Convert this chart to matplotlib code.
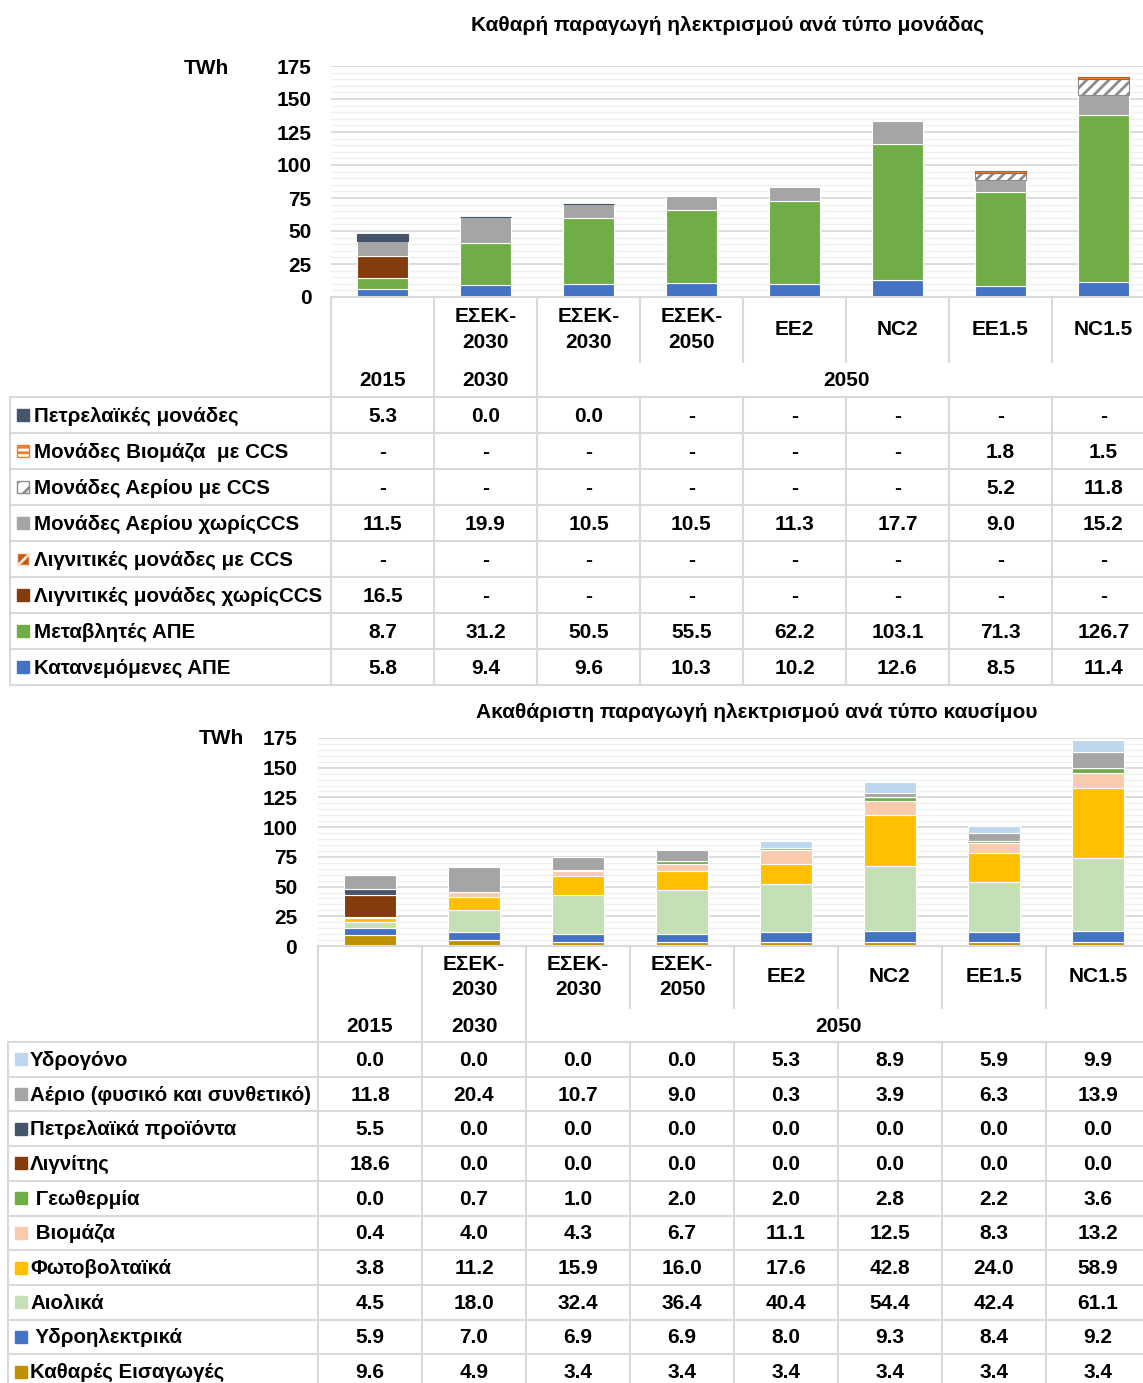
import matplotlib
matplotlib.use('Agg')
import matplotlib.pyplot as plt
from matplotlib.patches import Rectangle
from matplotlib.ticker import MultipleLocator
import numpy as np

plt.rcParams['font.family'] = ['Liberation Sans', 'DejaVu Sans']
plt.rcParams['font.weight'] = 'bold'
plt.rcParams['hatch.linewidth'] = 2.0

W, H = 1143, 1383

# --- data ---
scenarios = ["", "ΕΣΕΚ-\n2030", "ΕΣΕΚ-\n2030", "ΕΣΕΚ-\n2050", "EE2", "NC2", "EE1.5", "NC1.5"]
years = ["2015", "2030", "2050"]

# top: net production per plant type (table order)
top_title = "Καθαρή παραγωγή ηλεκτρισμού ανά τύπο μονάδας"
top_names = ["Πετρελαϊκές μονάδες", "Μονάδες Βιομάζα  με CCS", "Μονάδες Αερίου με CCS",
             "Μονάδες Αερίου χωρίςCCS", "Λιγνιτικές μονάδες με CCS",
             "Λιγνιτικές μονάδες χωρίςCCS", "Μεταβλητές ΑΠΕ", "Κατανεμόμενες ΑΠΕ"]
oil_units = [5.3, 0.0, 0.0, None, None, None, None, None]
bio_ccs = [None, None, None, None, None, None, 1.8, 1.5]
gas_ccs = [None, None, None, None, None, None, 5.2, 11.8]
gas_noccs = [11.5, 19.9, 10.5, 10.5, 11.3, 17.7, 9.0, 15.2]
lig_ccs = [None, None, None, None, None, None, None, None]
lig_noccs = [16.5, None, None, None, None, None, None, None]
var_res = [8.7, 31.2, 50.5, 55.5, 62.2, 103.1, 71.3, 126.7]
disp_res = [5.8, 9.4, 9.6, 10.3, 10.2, 12.6, 8.5, 11.4]
top_values = [oil_units, bio_ccs, gas_ccs, gas_noccs, lig_ccs, lig_noccs, var_res, disp_res]

# bottom: gross production per fuel (table order)
bot_title = "Ακαθάριστη παραγωγή ηλεκτρισμού ανά τύπο καυσίμου"
bot_names = ["Υδρογόνο", "Αέριο (φυσικό και συνθετικό)", "Πετρελαϊκά προϊόντα", "Λιγνίτης",
             " Γεωθερμία", " Βιομάζα", "Φωτοβολταϊκά", "Αιολικά", " Υδροηλεκτρικά",
             "Καθαρές Εισαγωγές"]
hydrogen = [0.0, 0.0, 0.0, 0.0, 5.3, 8.9, 5.9, 9.9]
gas = [11.8, 20.4, 10.7, 9.0, 0.3, 3.9, 6.3, 13.9]
oil_prod = [5.5, 0.0, 0.0, 0.0, 0.0, 0.0, 0.0, 0.0]
lignite = [18.6, 0.0, 0.0, 0.0, 0.0, 0.0, 0.0, 0.0]
geothermal = [0.0, 0.7, 1.0, 2.0, 2.0, 2.8, 2.2, 3.6]
biomass = [0.4, 4.0, 4.3, 6.7, 11.1, 12.5, 8.3, 13.2]
pv = [3.8, 11.2, 15.9, 16.0, 17.6, 42.8, 24.0, 58.9]
wind = [4.5, 18.0, 32.4, 36.4, 40.4, 54.4, 42.4, 61.1]
hydro = [5.9, 7.0, 6.9, 6.9, 8.0, 9.3, 8.4, 9.2]
imports = [9.6, 4.9, 3.4, 3.4, 3.4, 3.4, 3.4, 3.4]
bot_values = [hydrogen, gas, oil_prod, lignite, geothermal, biomass, pv, wind, hydro, imports]

# --- styles ---
top_styles = [
    dict(color='#44546A', edgecolor='#44546A'),
    dict(color='#ED7D31', edgecolor='#C55A11'),
    dict(color='white', edgecolor='#8C8C8C', hatch='///'),
    dict(color='#A5A5A5', edgecolor='white'),
    dict(color='#843C0C', edgecolor='#F4B183', hatch='//'),
    dict(color='#843C0C', edgecolor='white'),
    dict(color='#70AD47', edgecolor='white'),
    dict(color='#4472C4', edgecolor='white'),
]
bot_colors = ['#BDD7EE', '#A5A5A5', '#44546A', '#843C0C', '#70AD47', '#F8CBAD',
              '#FFC000', '#C5E0B4', '#4472C4', '#BF9000']

GRID = '#D9D9D9'
FS = 15
LFS = 14.8


def ax_rect(l, t, r, b):
    return [l / W, 1 - b / H, (r - l) / W, (b - t) / H]


def fmt(v):
    return '-' if v is None else f'{v:.1f}'


fig = plt.figure(figsize=(W / 100, H / 100), dpi=100)


def bar_chart(rect, values, styles, pad):
    ax = fig.add_axes(rect)
    x = np.arange(len(scenarios))
    bottom = np.zeros(len(scenarios))
    for vals, st in zip(values[::-1], styles[::-1]):
        v = np.array([np.nan if a is None else a for a in vals])
        ax.bar(x, v, bottom=bottom, width=0.5, linewidth=0.8, zorder=3, **st)
        bottom += np.nan_to_num(v)
    ax.set_xlim(-0.5, len(scenarios) - 0.5)
    ax.set_ylim(0, 175)
    ax.yaxis.set_major_locator(MultipleLocator(25))
    ax.yaxis.set_minor_locator(MultipleLocator(5))
    ax.grid(axis='y', which='major', color=GRID, lw=1.3, zorder=0)
    ax.grid(axis='y', which='minor', color='#F0F0F0', lw=1.0, zorder=0)
    ax.set_xticks([])
    ax.tick_params(axis='y', which='both', length=0, pad=pad, labelsize=FS)
    for lab in ax.get_yticklabels():
        lab.set_fontweight('bold')
    for s in ax.spines.values():
        s.set_visible(False)
    return ax


bar_chart(ax_rect(331, 66, 1155, 297), top_values, top_styles, 14)
bot_styles = [dict(color=c, edgecolor='white') for c in bot_colors]
bar_chart(ax_rect(318, 738, 1150, 946), bot_values, bot_styles, 15)

tab = fig.add_axes([0, 0, 1, 1])
tab.set_xlim(0, W)
tab.set_ylim(H, 0)
tab.axis('off')
tab.patch.set_alpha(0)


def table(x0, cw, lab_left, y_head, h1, h2, row_h, names, values, markers, mark_x, lab_x):
    n = len(scenarios)
    xs = [x0 + cw * i for i in range(n + 1)]
    y_rows = y_head + h1 + h2
    # header
    tab.plot([x0, W], [y_head, y_head], color=GRID, lw=1.5)
    for i in range(n):
        y_end = y_rows if i <= 2 else y_head + h1
        tab.plot([xs[i], xs[i]], [y_head, y_end], color=GRID, lw=1.5)
        cx = (xs[i] + xs[i + 1]) / 2
        tab.text(cx, y_head + h1 / 2, scenarios[i], ha='center', va='center',
                 fontsize=FS, fontweight='bold', linespacing=1.4)
    yc = y_head + h1 + h2 / 2 + 1
    tab.text((xs[0] + xs[1]) / 2, yc, years[0], ha='center', va='center',
             fontsize=FS, fontweight='bold')
    tab.text((xs[1] + xs[2]) / 2, yc, years[1], ha='center', va='center',
             fontsize=FS, fontweight='bold')
    tab.text((xs[2] + xs[n]) / 2, yc, years[2], ha='center', va='center',
             fontsize=FS, fontweight='bold')
    # body
    nr = len(names)
    for r in range(nr + 1):
        y = y_rows + row_h * r
        tab.plot([lab_left, W], [y, y], color=GRID, lw=1.5)
    for xv in [lab_left] + xs:
        tab.plot([xv, xv], [y_rows, y_rows + row_h * nr], color=GRID, lw=1.5)
    for r, (name, vals, mk) in enumerate(zip(names, values, markers)):
        cy = y_rows + row_h * (r + 0.5)
        tab.add_patch(Rectangle((mark_x, cy - 6), 12, 12, lw=1, **mk))
        tab.text(lab_x, cy + 1, name, ha='left', va='center', fontsize=LFS, fontweight='bold')
        for i, v in enumerate(vals):
            tab.text((xs[i] + xs[i + 1]) / 2, cy + 1, fmt(v), ha='center', va='center',
                     fontsize=FS, fontweight='bold')


top_markers = [
    dict(facecolor='#44546A', edgecolor='#44546A'),
    dict(facecolor='white', edgecolor='#ED7D31', hatch='---'),
    dict(facecolor='white', edgecolor='#8C8C8C', hatch='//'),
    dict(facecolor='#A5A5A5', edgecolor='#A5A5A5'),
    dict(facecolor='#C55A11', edgecolor='#FBE5D6', hatch='//'),
    dict(facecolor='#843C0C', edgecolor='#843C0C'),
    dict(facecolor='#70AD47', edgecolor='#70AD47'),
    dict(facecolor='#4472C4', edgecolor='#4472C4'),
]
bot_markers = [dict(facecolor=c, edgecolor=c) for c in bot_colors]

table(331, 103, 10, 297, 65, 35, 36, top_names, top_values, top_markers, 17, 34)
table(318, 104, 8, 946, 62, 34, 34.7, bot_names, bot_values, bot_markers, 15, 30)

tab.text(728, 25, top_title, ha='center', va='center', fontsize=15, fontweight='bold')
tab.text(757, 713, bot_title, ha='center', va='center', fontsize=15, fontweight='bold')
tab.text(206, 68, "TWh", ha='center', va='center', fontsize=FS, fontweight='bold')
tab.text(221, 739, "TWh", ha='center', va='center', fontsize=FS, fontweight='bold')

fig.savefig('out.png', dpi=100)
